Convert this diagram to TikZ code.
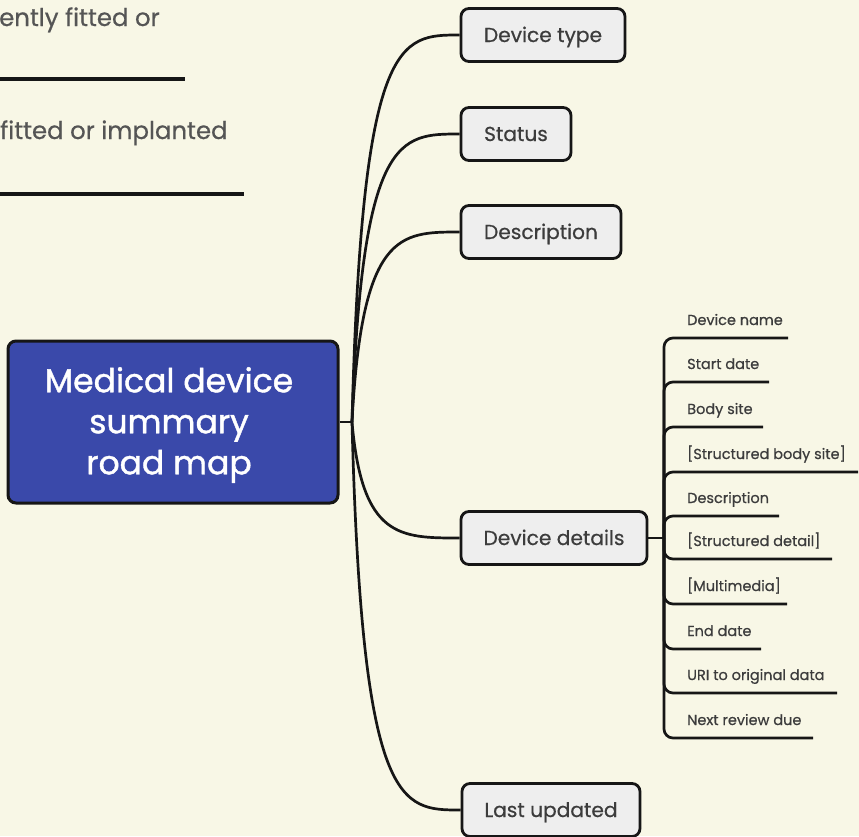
\documentclass[tikz,border=0pt]{standalone}
\usepackage{fontspec}
\usetikzlibrary{calc}
\setmainfont{Poppins}
\newfontfamily\midweight{Poppins}[FakeBold=0.6]
\newfontfamily\heavyweight{Poppins}[FakeBold=1.2]
\definecolor{paper}{HTML}{F8F7E6}
\definecolor{ink}{HTML}{161616}
\definecolor{rootblue}{HTML}{3A49AA}
\definecolor{boxgray}{HTML}{EEEEEE}
\definecolor{labelgray}{HTML}{3C3C3C}
\definecolor{fadedgray}{HTML}{555555}
\begin{document}
\begin{tikzpicture}[x=1pt,y=-1pt,
  link/.style={draw=ink,line width=2.7pt},
  rootbox/.style={draw=ink,line width=3pt,fill=rootblue,rounded corners=8pt,
    minimum width=330pt,minimum height=162pt},
  roottext/.style={text=white,align=center,inner sep=0pt,
    font=\heavyweight\fontsize{33}{41}\selectfont},
  topicbox/.style={draw=ink,line width=2.8pt,fill=boxgray,rounded corners=8pt,
    text=labelgray,minimum height=53pt,inner sep=0pt,
    text height=16pt,text depth=2pt,
    font=\midweight\fontsize{20.2}{24}\selectfont},
  leaf/.style={anchor=base west,inner sep=0pt,text=labelgray,
    font=\midweight\fontsize{14.5}{18}\selectfont},
  faded/.style={anchor=base west,inner sep=0pt,text=fadedgray,
    font=\midweight\fontsize{24.4}{28}\selectfont},
  bar/.style={draw=ink,line width=4.5pt}
]
% page
\fill[paper] (0,0) rectangle (859,836);
\useasboundingbox (0,0) rectangle (859,836);

% partly visible neighbouring entries on the left
\node[faded] (f1) at (-1,26) {ently fitted or};
\coordinate (f1a) at (0,79);
\coordinate (f1b) at (185,79);
\draw[bar] (f1a) -- (f1b);
\node[faded] (f2) at (0,139) {fitted or implanted};
\coordinate (f2a) at (0,194);
\coordinate (f2b) at (244,194);
\draw[bar] (f2a) -- (f2b);

% root
\node[rootbox] (root) at (173,422) {};
\node[roottext] (rootlabel) at (169,425) {Medical device\\summary\\road map};
\coordinate (hub) at (352,422);
\draw[link] (root.east) -- (hub);

% main topics
\node[topicbox,minimum width=164pt] (type) at (543,35) {Device type};
\node[topicbox,minimum width=110pt] (status) at (516,134) {Status};
\node[topicbox,minimum width=160pt] (descr) at (541,232) {Description};
\node[topicbox,minimum width=186pt] (details) at (554,538) {Device details};
\node[topicbox,minimum width=178pt] (updated) at (551,810) {Last updated};

\foreach \t in {type,status,descr,details,updated}{
  \draw[link] (hub) .. controls ($(hub|-\t.west)+(10,0)$) and ($(\t.west)+(-60,0)$) .. (\t.west);
}

% device details leaves
\coordinate (spine) at (664,538);
\draw[link] (details.east) -- (spine);
\foreach \name/\txt/\u/\e in {
  n1/Device name/338/788,
  n2/Start date/382/769,
  n3/Body site/427/763,
  n4/{[Structured body site]}/472/858,
  n5/Description/516/779,
  n6/{[Structured detail]}/559/832,
  n7/{[Multimedia]}/604/787,
  n8/End date/649/761,
  n9/URI to original data/693/837,
  n10/Next review due/738/813}{
  \node[leaf] (\name) at (687,\u-13) {\txt};
  \coordinate (\name e) at (\e,\u);
  \draw[link,rounded corners=9pt] (spine) |- (\name e);
}
\end{tikzpicture}
\end{document}
